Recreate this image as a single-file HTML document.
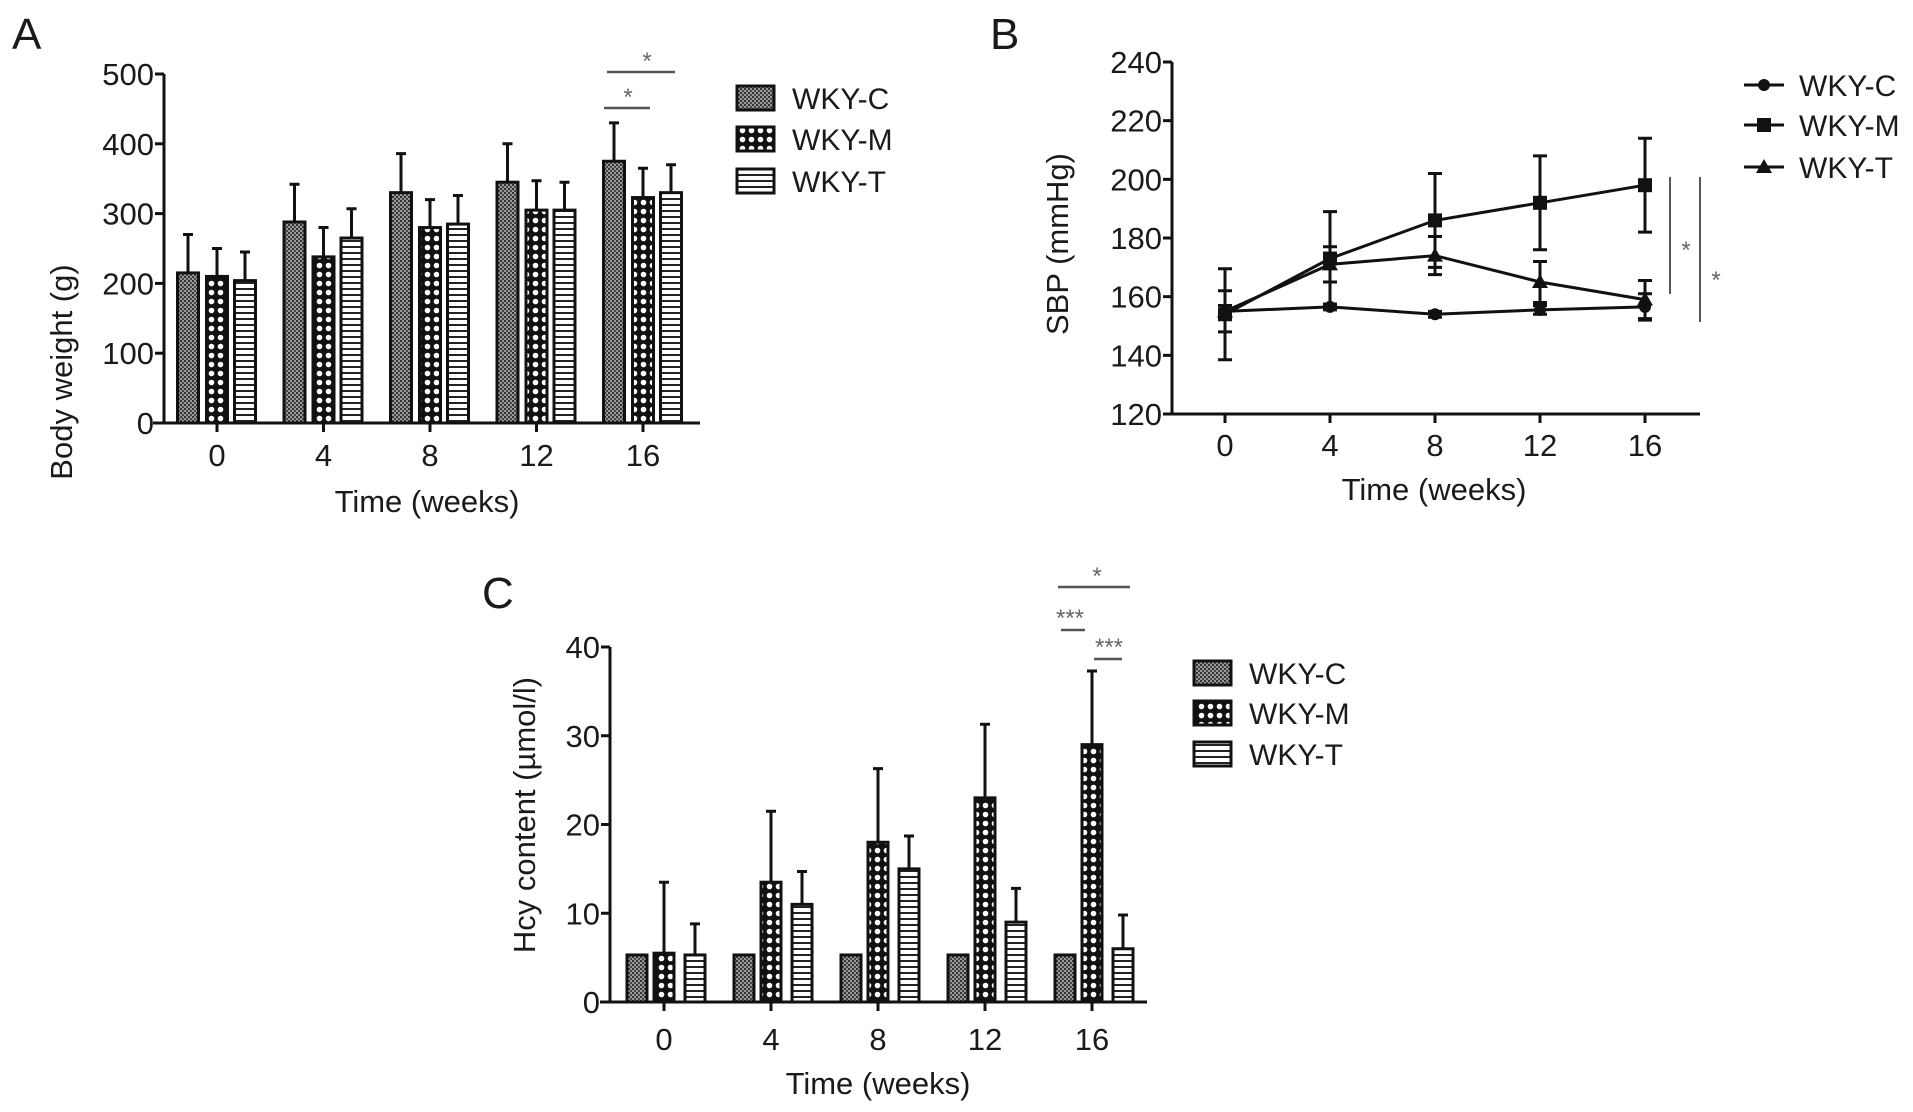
<!DOCTYPE html>
<html><head><meta charset="utf-8"><style>
html,body{margin:0;padding:0;background:#fff}
svg{display:block}
text{font-family:"Liberation Sans",sans-serif;fill:#1a1a1a}
</style></head><body>
<svg id="fig" width="1913" height="1112" viewBox="0 0 1913 1112" xmlns="http://www.w3.org/2000/svg">
<defs>
<pattern id="patC" width="4" height="4" patternUnits="userSpaceOnUse"><rect width="4" height="4" fill="#999"/><rect width="2" height="2" fill="#333"/><rect x="2" y="2" width="2" height="2" fill="#444"/></pattern>
<pattern id="patM" width="9" height="9" patternUnits="userSpaceOnUse"><rect width="9" height="9" fill="#111"/><circle cx="4.5" cy="4.5" r="2.8" fill="#fff"/></pattern>
<pattern id="patT" width="6" height="6" patternUnits="userSpaceOnUse"><rect width="6" height="6" fill="#fff"/><rect y="0" width="6" height="2" fill="#222"/></pattern>
</defs>
<text x="12" y="49" font-size="44">A</text>
<text x="990" y="49" font-size="44">B</text>
<text x="482" y="608" font-size="44">C</text>
<g id="pa"></g>
<g id="pb"></g>
<g id="pc"></g>
</svg>
<script>
const weeks = ["0","4","8","12","16"];
const groups = ["WKY-C","WKY-M","WKY-T"];
// Panel A: body weight (g)
const bwC = [215,288,330,345,375];
const bwM = [210,238,280,305,323];
const bwT = [204,265,285,305,330];
const bwCerr = [55,54,56,55,55];
const bwMerr = [40,42,40,42,42];
const bwTerr = [41,42,41,40,40];
const bwTicks = [0,100,200,300,400,500];
// Panel B: SBP (mmHg)
const sbpC = [155,156.5,154,155.5,156.5];
const sbpM = [154,173,186,192,198];
const sbpT = [155,171,174,165,159];
const sbpCerr = [2,1,1,1.5,4.5];
const sbpMerr = [15.5,16,16,16,16];
const sbpTerr = [7,6,6.5,7,6.5];
const sbpTicks = [120,140,160,180,200,220,240];
// Panel C: Hcy (umol/l)
const hcyC = [5.3,5.3,5.3,5.3,5.3];
const hcyM = [5.5,13.5,18,23,29];
const hcyT = [5.3,11,15,9,6];
const hcyCerr = [0,0,0,0,0];
const hcyMerr = [8,8,8.3,8.3,8.3];
const hcyTerr = [3.5,3.7,3.7,3.8,3.8];
const hcyTicks = [0,10,20,30,40];

const NS="http://www.w3.org/2000/svg";
function mk(p,tag,a){const e=document.createElementNS(NS,tag);for(const k in a)e.setAttribute(k,a[k]);p.appendChild(e);return e;}
function txt(p,x,y,s,fs,anchor,rot){const t=mk(p,"text",{x:x,y:y,"font-size":fs,"text-anchor":anchor||"middle"});if(rot)t.setAttribute("transform",`rotate(-90 ${x} ${y})`);t.textContent=s;return t;}

function axes(g,o){
  const y=v=>o.y0-(v-o.vmin)/(o.vmax-o.vmin)*(o.y0-o.y1);
  const xa=mk(g,"line",{x1:o.ax,y1:o.y0,x2:o.ax,y2:o.y1,stroke:"#111","stroke-width":3});
  
  
  const xb=mk(g,"line",{x1:o.xl,y1:o.y0,x2:o.xr,y2:o.y0,stroke:"#111","stroke-width":3});
  
  
  o.ticks.forEach(v=>{
    mk(g,"line",{x1:o.ax-9,y1:y(v),x2:o.ax,y2:y(v),stroke:"#111","stroke-width":3});
    const t=txt(g,o.ax-10,y(v)+11,String(v),31,"end");
    
    
  });
  weeks.forEach((w,i)=>{
    const cx=o.x(i);
    mk(g,"line",{x1:cx,y1:o.y0,x2:cx,y2:o.y0+9,stroke:"#111","stroke-width":3});
    const t=txt(g,cx,o.tickY,w,31);
    
    
  });
  const xt=txt(g,o.xtX,o.xtY,"Time (weeks)",31);
  
  
  const yt=txt(g,o.ytX,o.ytY,o.ytitle,31,"middle",true);
  
  
  return y;
}

function barChart(g,o,series,errs){
  const y=axes(g,o);
  const pats=["url(#patC)","url(#patM)","url(#patT)"];
  series.forEach((s,si)=>{
    s.forEach((v,i)=>{
      const cx=o.x(i)+o.offs[si];
      if(errs[si][i]>0){
        const e=mk(g,"path",{d:`M${cx},${y(v)} V${y(v+errs[si][i])} M${cx-5},${y(v+errs[si][i])} H${cx+5}`,stroke:"#111","stroke-width":3,fill:"none"});
        
        
      }
      const r=mk(g,"rect",{x:cx-o.bw/2,y:y(v),width:o.bw,height:o.y0-y(v),fill:pats[si],stroke:"#111","stroke-width":3});
      
      
    });
  });
  groups.forEach((gn,si)=>{
    const ly=o.legY[si];
    const b=mk(g,"rect",{x:o.legX,y:ly-12,width:37,height:24,fill:pats[si],stroke:"#111","stroke-width":3});
    
    
    const t=txt(g,o.legX+55,ly+11,gn,30,"start");
    
    
  });
  return y;
}
function sig(g,x1,x2,ly,label,sx,sy){
  const l=mk(g,"line",{x1:x1,y1:ly,x2:x2,y2:ly,stroke:"#555","stroke-width":2.5});
  
  
  const t=txt(g,sx,sy,label,24);
  t.style.fill='#666';
  
  
}

// Panel A
const ga=document.getElementById("pa");
barChart(ga,{ax:164,y0:423,y1:74,vmin:0,vmax:500,xl:153,xr:700,x:i=>217+i*106.5,offs:[-29,0,28],bw:21,
  ticks:bwTicks,tickY:466,xtX:427,xtY:512,ytX:72,ytY:372,ytitle:"Body weight (g)",legX:737,legY:[98,139,181]},
  [bwC,bwM,bwT],[bwCerr,bwMerr,bwTerr]);
sig(ga,604,650,108,"*",628,105);
sig(ga,607,675,72,"*",647,69);

// Panel C
const gc=document.getElementById("pc");
barChart(gc,{ax:610,y0:1002,y1:647,vmin:0,vmax:40,xl:600,xr:1147,x:i=>664+i*107,offs:[-27,0,31],bw:20,
  ticks:hcyTicks,tickY:1050,xtX:878,xtY:1094,ytX:535,ytY:815,ytitle:"Hcy content (µmol/l)",legX:1194,legY:[673,713,754]},
  [hcyC,hcyM,hcyT],[hcyCerr,hcyMerr,hcyTerr]);
sig(gc,1058,1130,587,"*",1097,584);
sig(gc,1061,1085,630,"***",1070,626);
sig(gc,1094,1122,659,"***",1109,655);

// Panel B
const gb=document.getElementById("pb");
const xb=i=>1225+i*105;
const yb=axes(gb,{ax:1172,y0:414,y1:62,vmin:120,vmax:240,xl:1165,xr:1700,x:xb,
  ticks:sbpTicks,tickY:456,xtX:1434,xtY:500,ytX:1068,ytY:244,ytitle:"SBP (mmHg)"});
const lines=[[sbpC,sbpCerr,"circle"],[sbpM,sbpMerr,"square"],[sbpT,sbpTerr,"triangle"]];
function marker(g,kind,x,y){
  let m;
  if(kind==="circle") m=mk(g,"circle",{cx:x,cy:y,r:6,fill:"#111"});
  else if(kind==="square") m=mk(g,"rect",{x:x-7,y:y-7,width:14,height:14,fill:"#111"});
  else m=mk(g,"path",{d:`M${x},${y-8} L${x+8},${y+6} L${x-8},${y+6} Z`,fill:"#111"});
  return m;
}
lines.forEach(([vals,errs,kind],si)=>{
  vals.forEach((v,i)=>{
    const e=mk(gb,"path",{d:`M${xb(i)},${yb(v-errs[i])} V${yb(v+errs[i])} M${xb(i)-7},${yb(v+errs[i])} H${xb(i)+7} M${xb(i)-7},${yb(v-errs[i])} H${xb(i)+7}`,stroke:"#111","stroke-width":3,fill:"none"});
    
    
  });
  const p=mk(gb,"polyline",{points:vals.map((v,i)=>xb(i)+","+yb(v)).join(" "),fill:"none",stroke:"#111","stroke-width":3});
  
  
  vals.forEach((v,i)=>{
    const m=marker(gb,kind,xb(i),yb(v));
    
    
  });
  const ly=[85,125,167][si];
  const ll=mk(gb,"line",{x1:1744,y1:ly,x2:1784,y2:ly,stroke:"#111","stroke-width":3});
  
  
  const lm=marker(gb,kind,1764,ly);
  
  
  const lt=txt(gb,1799,ly+11,groups[si],30,"start");
  
  
});
[[1670,177,294,1686,258],[1700,177,322,1716,288]].forEach(([x,y1,y2,sx,sy])=>{
  const l=mk(gb,"line",{x1:x,y1:y1,x2:x,y2:y2,stroke:"#555","stroke-width":2});
  
  
  const t=txt(gb,sx,sy,"*",24);
  t.style.fill='#666';
  
  
});
</script>
</body></html>
